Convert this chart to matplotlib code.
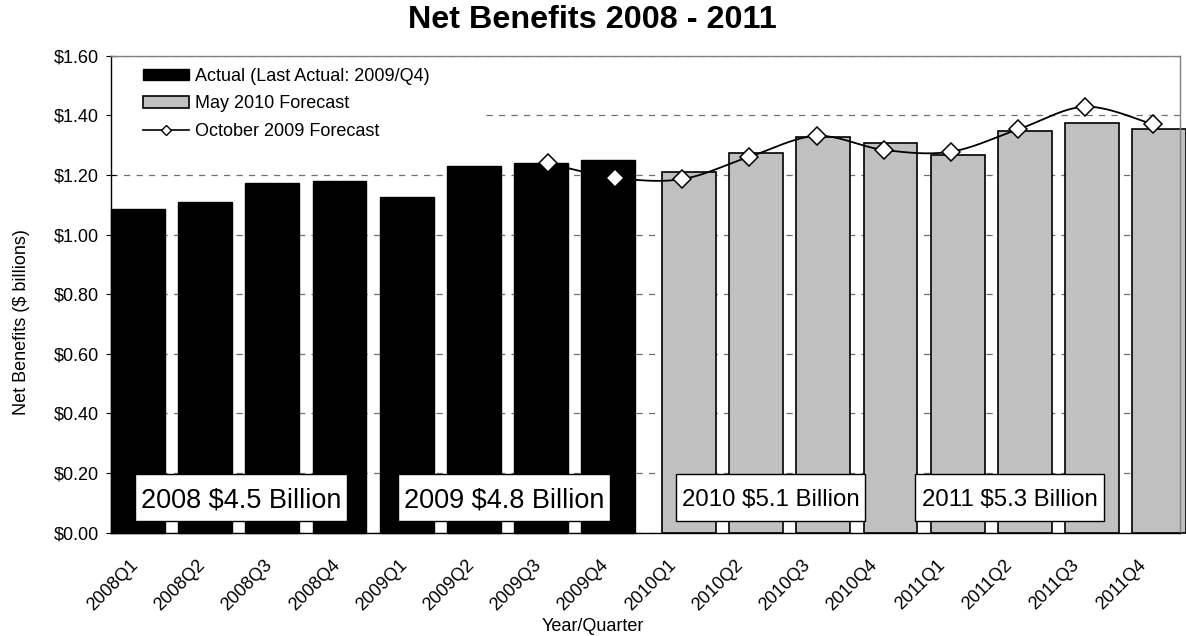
import numpy as np
import matplotlib
matplotlib.use("Agg")
import matplotlib.pyplot as plt
from matplotlib.patches import Patch, Rectangle
from matplotlib.lines import Line2D
from matplotlib.ticker import FuncFormatter
import matplotlib.transforms as mtransforms

# ---------------- data ----------------
quarters = ["2008Q1", "2008Q2", "2008Q3", "2008Q4",
            "2009Q1", "2009Q2", "2009Q3", "2009Q4",
            "2010Q1", "2010Q2", "2010Q3", "2010Q4",
            "2011Q1", "2011Q2", "2011Q3", "2011Q4"]
actual_quarters = quarters[:8]
actual_values = [1.086, 1.109, 1.172, 1.179, 1.125, 1.230, 1.239, 1.250]
may2010_quarters = quarters[8:]
may2010_values = [1.211, 1.273, 1.328, 1.308, 1.267, 1.347, 1.375, 1.353]
oct2009_quarters = quarters[6:]
oct2009_values = [1.239, 1.191, 1.186, 1.261, 1.331, 1.284, 1.278, 1.353, 1.429, 1.370]
year_labels = ["2008 $4.5 Billion", "2009 $4.8 Billion",
               "2010 $5.1 Billion", "2011 $5.3 Billion"]
legend_labels = ["Actual (Last Actual: 2009/Q4)", "May 2010 Forecast",
                 "October 2009 Forecast"]
yticks = [0.0, 0.2, 0.4, 0.6, 0.8, 1.0, 1.2, 1.4, 1.6]

# ---------------- layout / style ----------------
FONT = ["Liberation Sans", "DejaVu Sans"]
plt.rcParams["font.family"] = FONT
W, H = 1186, 636
fig = plt.figure(figsize=(W / 100, H / 100), dpi=100)
ax_l, ax_r, ax_t, ax_b = 111, 1180, 55.7, 532.7
ax = fig.add_axes([ax_l / W, (H - ax_b) / H, (ax_r - ax_l) / W, (ax_b - ax_t) / H])

px_per_cat = 67.2
x_left = -0.5
x_right = x_left + (ax_r - ax_l) / px_per_cat
ax.set_xlim(x_left, x_right)
ax.set_ylim(0, 1.6)
px_per_y = (ax_b - ax_t) / 1.6

pos = {q: i for i, q in enumerate(quarters)}
bar_w = 0.8
off = 0.1
GREY = "#C0C0C0"

xa = np.array([pos[q] for q in actual_quarters]) - off
ax.bar(xa, actual_values, width=bar_w, color="black", edgecolor="black",
       linewidth=1.0, zorder=2, clip_on=False)
xf = np.array([pos[q] for q in may2010_quarters]) + off
ax.bar(xf, may2010_values, width=bar_w, color=GREY, edgecolor="black",
       linewidth=1.2, zorder=2, clip_on=False)

# smoothed line (Excel-style Bezier smoothing)
px = np.array([pos[q] for q in oct2009_quarters], dtype=float)
py = np.array(oct2009_values, dtype=float)
P = np.column_stack([px, py])
Pext = np.vstack([P[0], P, P[-1]])
curve = []
tt = np.linspace(0, 1, 30)
for i in range(1, len(Pext) - 2):
    p0, p1, p2, p3 = Pext[i - 1], Pext[i], Pext[i + 1], Pext[i + 2]
    b1 = p1 + (p2 - p0) / 6.0
    b2 = p2 - (p3 - p1) / 6.0
    seg = ((1 - tt) ** 3)[:, None] * p1 + (3 * (1 - tt) ** 2 * tt)[:, None] * b1 \
        + (3 * (1 - tt) * tt ** 2)[:, None] * b2 + (tt ** 3)[:, None] * p2
    curve.append(seg)
curve = np.vstack(curve)
ax.plot(curve[:, 0], curve[:, 1], color="black", lw=1.3, zorder=3)
ax.plot(px, py, linestyle="none", marker="D", ms=9.5, mfc="white", mec="black",
        mew=1.1, zorder=4)

# grid
ax.set_axisbelow(True)
ax.set_yticks(yticks)
ax.yaxis.grid(True, linestyle=(0, (5, 5)), color="#707070", linewidth=0.9)
ax.yaxis.set_major_formatter(FuncFormatter(lambda v, p: f"${v:.2f}"))

# spines
for s in ["left", "bottom"]:
    ax.spines[s].set_color("black")
    ax.spines[s].set_linewidth(1.0)
for s in ["top", "right"]:
    ax.spines[s].set_color("#808080")
    ax.spines[s].set_linewidth(1.0)

ax.tick_params(axis="y", direction="inout", length=6.5, width=0.8,
               labelsize=13, pad=5.5)
ax.set_xticks(range(len(quarters)))
ax.set_xticklabels(quarters)
ax.tick_params(axis="x", direction="in", length=2.5, width=0.8, color="#404040",
               labelsize=13, pad=17)
shift = mtransforms.ScaledTranslation(-15 / 100, 0, fig.dpi_scale_trans)
for lab in ax.get_xticklabels():
    lab.set_rotation(45)
    lab.set_ha("right")
    lab.set_va("top")
    lab.set_rotation_mode("anchor")
    lab.set_transform(lab.get_transform() + shift)

# legend background (Excel legend area)
ax.add_patch(Rectangle((0.0, 0.795), 0.35, 0.2, transform=ax.transAxes,
                       facecolor="white", edgecolor="none", zorder=1.5))
handles = [Patch(facecolor="black", edgecolor="black"),
           Patch(facecolor=GREY, edgecolor="black", linewidth=1.2),
           Line2D([], [], color="black", lw=1.2, marker="D", ms=5,
                  mfc="white", mec="black", mew=1.0)]
leg = ax.legend(handles, legend_labels, loc="upper left",
                bbox_to_anchor=(0.030, 0.975), borderaxespad=0, borderpad=0,
                frameon=False, fontsize=13, handlelength=2.55, handleheight=0.6,
                handletextpad=0.35, labelspacing=0.6)
leg.set_zorder(5)

# yearly total boxes (centre x in categories, size in pixels)
box_x = [1.436, 5.35, 9.315, 12.87]
box_w_px = [212, 212, 189, 189]
box_h_px = 47
box_yc = 0.117
box_sizes = [19.5, 19.5, 17.3, 17.3]
for lbl, bx, bw, fs in zip(year_labels, box_x, box_w_px, box_sizes):
    wd = bw / px_per_cat
    hd = box_h_px / px_per_y
    ax.add_patch(Rectangle((bx - wd / 2, box_yc - hd / 2), wd, hd,
                           facecolor="white", edgecolor="black", linewidth=1.0,
                           zorder=6))
    ax.text(bx, box_yc, lbl, ha="center", va="center_baseline", fontsize=fs,
            zorder=7)

# titles / labels
fig.text(592 / W, 1 - 28 / H, "Net Benefits 2008 - 2011", ha="center",
         va="baseline", fontsize=23.3, fontweight="bold")
fig.text(593 / W, 1 - 631 / H, "Year/Quarter", ha="center", va="baseline",
         fontsize=13)
fig.text(21 / W, 1 - 322 / H, "Net Benefits ($ billions)", ha="center",
         va="center", rotation=90, fontsize=13)

fig.savefig("out.png", dpi=100)
